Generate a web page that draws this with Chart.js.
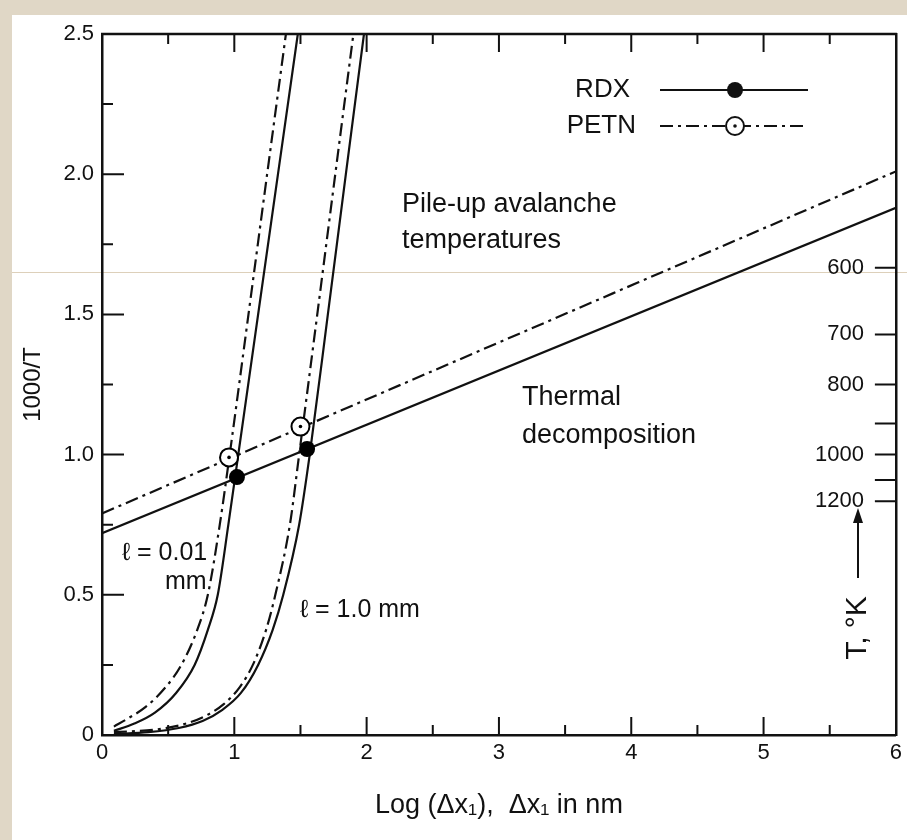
<!DOCTYPE html>
<html>
<head>
<meta charset="utf-8">
<title>Pile-up avalanche temperatures</title>
<script src="https://cdn.jsdelivr.net/npm/chart.js@4.4.1/dist/chart.umd.min.js"></script>
<style>
  html, body { margin: 0; padding: 0; }
  body { width: 907px; height: 840px; background: #e0d7c6; position: relative; overflow: hidden; }
  #sheet { position: absolute; left: 12px; top: 15px; right: 0; bottom: 0; background: #fff; }
  #scanline { position: absolute; left: 12px; right: 0; top: 272px; height: 1px; background: #ddd0ba; }
  #wrap { position: absolute; left: 0; top: 0; width: 907px; height: 840px; }
</style>
</head>
<body>
<div id="sheet"></div>
<div id="scanline"></div>
<div id="wrap"><canvas id="chart" width="907" height="840"></canvas></div>
<script>
// Values: x = Log(dx1), y = 1000/T

// pile-up avalanche curves, l = 0.01 mm
const petnThinX = [0.09, 0.20, 0.33, 0.48, 0.60, 0.72, 0.80, 0.89, 0.965, 1.107, 1.248, 1.39];
const petnThinY = [0.03, 0.06, 0.10, 0.17, 0.25, 0.375, 0.5, 0.75, 1.0, 1.5, 2.0, 2.5];
const rdxThinX = [0.09, 0.24, 0.40, 0.56, 0.70, 0.80, 0.875, 0.955, 1.03, 1.18, 1.33, 1.48];
const rdxThinY = [0.015, 0.04, 0.08, 0.15, 0.25, 0.375, 0.5, 0.75, 1.0, 1.5, 2.0, 2.5];

// pile-up avalanche curves, l = 1.0 mm
const petnThickX = [0.09, 0.42, 0.63, 0.79, 0.92, 1.04, 1.14, 1.24, 1.31, 1.42, 1.49, 1.627, 1.763, 1.90];
const petnThickY = [0.01, 0.02, 0.04, 0.07, 0.11, 0.17, 0.25, 0.375, 0.5, 0.75, 1.0, 1.5, 2.0, 2.5];
const rdxThickX = [0.09, 0.35, 0.58, 0.76, 0.91, 1.05, 1.18, 1.29, 1.37, 1.49, 1.57, 1.707, 1.843, 1.98];
const rdxThickY = [0.003, 0.01, 0.025, 0.05, 0.09, 0.15, 0.25, 0.375, 0.5, 0.75, 1.0, 1.5, 2.0, 2.5];

// thermal decomposition lines
const rdxThermalX = [0, 6];
const rdxThermalY = [0.72, 1.88];
const petnThermalX = [0, 6];
const petnThermalY = [0.79, 2.01];

// crossing points
const rdxCrossX = [1.02, 1.55];
const rdxCrossY = [0.92, 1.02];
const petnCrossX = [0.96, 1.50];
const petnCrossY = [0.99, 1.10];

// ticks
const xTickVals = [0.5, 1, 1.5, 2, 2.5, 3, 3.5, 4, 4.5, 5, 5.5];
const yTickVals = [0.25, 0.5, 0.75, 1, 1.25, 1.5, 1.75, 2, 2.25];
const tempK = [600, 700, 800, 900, 1000, 1100, 1200];
const tempLabels = ['600', '700', '800', '', '1000', '', '1200'];

const INK = '#111';
const DASHDOT = [13, 5, 3, 5];
const FONT = "'Liberation Sans', Arial, Helvetica, sans-serif";

const pts = (xs, ys) => xs.map((x, i) => ({ x, y: ys[i] }));

function curve(label, xs, ys, dashed) {
  return {
    label,
    data: pts(xs, ys),
    order: 3,
    showLine: true,
    borderColor: INK,
    borderWidth: 2.2,
    borderDash: dashed ? DASHDOT : [],
    pointRadius: 0,
    pointHoverRadius: 0,
    cubicInterpolationMode: 'monotone',
    fill: false
  };
}

// inward ticks on all four sides + top frame line
const frameTicks = {
  id: 'frameTicks',
  afterDatasetsDraw(chart) {
    const { ctx, chartArea: a, scales: { x, y, y2 } } = chart;
    ctx.save();
    ctx.strokeStyle = INK;
    ctx.lineWidth = 2.5;
    ctx.beginPath();
    ctx.moveTo(a.left - 1, a.top);
    ctx.lineTo(a.right + 1, a.top);
    ctx.stroke();

    ctx.lineWidth = 2;
    ctx.beginPath();
    xTickVals.forEach(v => {
      const px = x.getPixelForValue(v);
      const len = Number.isInteger(v) ? 18 : 10;
      ctx.moveTo(px, a.bottom); ctx.lineTo(px, a.bottom - len);
      ctx.moveTo(px, a.top); ctx.lineTo(px, a.top + len);
    });
    yTickVals.forEach(v => {
      const py = y.getPixelForValue(v);
      const len = (v * 2) % 1 === 0 ? 22 : 11;
      ctx.moveTo(a.left, py); ctx.lineTo(a.left + len, py);
    });
    tempK.forEach(t => {
      const py = y2.getPixelForValue(1000 / t);
      ctx.moveTo(a.right, py); ctx.lineTo(a.right - 21, py);
    });
    ctx.stroke();
    ctx.restore();
  }
};

// legend key in the upper right
const legendKey = {
  id: 'legendKey',
  afterDraw(chart) {
    const { ctx } = chart;
    ctx.save();
    ctx.fillStyle = INK;
    ctx.strokeStyle = INK;
    ctx.font = '26px ' + FONT;
    ctx.textAlign = 'right';
    ctx.textBaseline = 'middle';
    ctx.fillText('RDX', 630, 90);
    ctx.fillText('PETN', 636, 126);

    ctx.lineWidth = 2.2;
    ctx.beginPath();
    ctx.moveTo(660, 90); ctx.lineTo(808, 90);
    ctx.stroke();
    ctx.beginPath();
    ctx.arc(735, 90, 8, 0, Math.PI * 2);
    ctx.fill();

    ctx.setLineDash(DASHDOT);
    ctx.beginPath();
    ctx.moveTo(660, 126); ctx.lineTo(808, 126);
    ctx.stroke();
    ctx.setLineDash([]);
    ctx.lineWidth = 2;
    ctx.fillStyle = '#fff';
    ctx.beginPath();
    ctx.arc(735, 126, 9, 0, Math.PI * 2);
    ctx.fill();
    ctx.stroke();
    ctx.fillStyle = INK;
    ctx.beginPath();
    ctx.arc(735, 126, 1.8, 0, Math.PI * 2);
    ctx.fill();
    ctx.restore();
  }
};

// free text inside the plot and the T axis caption
const notes = {
  id: 'notes',
  afterDraw(chart) {
    const { ctx } = chart;
    ctx.save();
    ctx.fillStyle = INK;
    ctx.textBaseline = 'middle';
    ctx.textAlign = 'left';
    ctx.font = '27px ' + FONT;
    ctx.fillText('Pile-up avalanche', 402, 205);
    ctx.fillText('temperatures', 402, 241);
    ctx.fillText('Thermal', 522, 398);
    ctx.fillText('decomposition', 522, 436);
    ctx.font = '25px ' + FONT;
    ctx.fillText('ℓ = 0.01', 122, 553);
    ctx.fillText('mm', 165, 582);
    ctx.fillText('ℓ = 1.0 mm', 300, 610);

    // T, °K with arrow, rotated
    ctx.translate(858, 628);
    ctx.rotate(-Math.PI / 2);
    ctx.font = '30px ' + FONT;
    ctx.textAlign = 'center';
    ctx.fillText('T, °K', 0, 0);
    ctx.strokeStyle = INK;
    ctx.lineWidth = 2;
    ctx.beginPath();
    ctx.moveTo(50, 0); ctx.lineTo(110, 0);
    ctx.stroke();
    ctx.beginPath();
    ctx.moveTo(120, 0); ctx.lineTo(105, -5); ctx.lineTo(105, 5);
    ctx.closePath();
    ctx.fill();
    ctx.restore();
  }
};

Chart.defaults.font.family = FONT;
Chart.defaults.color = INK;

new Chart(document.getElementById('chart'), {
  type: 'scatter',
  data: {
    datasets: [
      curve('PETN l = 0.01 mm', petnThinX, petnThinY, true),
      curve('RDX l = 0.01 mm', rdxThinX, rdxThinY, false),
      curve('PETN l = 1.0 mm', petnThickX, petnThickY, true),
      curve('RDX l = 1.0 mm', rdxThickX, rdxThickY, false),
      curve('PETN thermal', petnThermalX, petnThermalY, true),
      curve('RDX thermal', rdxThermalX, rdxThermalY, false),
      {
        label: 'RDX crossing',
        data: pts(rdxCrossX, rdxCrossY),
        order: 2,
        showLine: false,
        pointRadius: 8,
        pointBackgroundColor: '#000',
        pointBorderWidth: 0
      },
      {
        label: 'PETN crossing',
        data: pts(petnCrossX, petnCrossY),
        order: 1,
        showLine: false,
        pointRadius: 9,
        pointBackgroundColor: '#fff',
        pointBorderColor: '#000',
        pointBorderWidth: 2
      },
      {
        label: 'PETN crossing centre',
        data: pts(petnCrossX, petnCrossY),
        order: 0,
        showLine: false,
        pointRadius: 1.8,
        pointBackgroundColor: '#000',
        pointBorderWidth: 0
      }
    ]
  },
  options: {
    responsive: false,
    animation: false,
    devicePixelRatio: 1,
    layout: { padding: { left: 0, top: 34, right: 9, bottom: 0 } },
    plugins: {
      legend: { display: false },
      tooltip: { enabled: false }
    },
    scales: {
      x: {
        type: 'linear',
        min: 0,
        max: 6,
        afterFit: s => { s.height = 105; },
        ticks: { stepSize: 1, padding: 5, maxRotation: 0, font: { size: 22 }, color: INK },
        grid: { display: false, drawTicks: false },
        border: { display: true, color: INK, width: 2.5 },
        title: {
          display: true,
          text: 'Log (Δx₁),  Δx₁ in nm',
          color: INK,
          font: { size: 27 },
          padding: { top: 0, bottom: 18 }
        }
      },
      y: {
        min: 0,
        max: 2.5,
        afterFit: s => { s.width = 102; },
        ticks: {
          stepSize: 0.5,
          padding: 8,
          font: { size: 22 },
          color: INK,
          callback: v => (v === 0 ? '0' : v.toFixed(1))
        },
        grid: { display: false, drawTicks: false },
        border: { display: true, color: INK, width: 2.5 },
        title: {
          display: true,
          text: '1000/T',
          color: INK,
          font: { size: 24 },
          padding: { top: 19, bottom: 0 }
        }
      },
      y2: {
        position: 'right',
        min: 0,
        max: 2.5,
        afterFit: s => { s.width = 0; },
        afterBuildTicks: s => { s.ticks = tempK.map(t => ({ value: 1000 / t })); },
        ticks: {
          mirror: true,
          padding: -32,
          autoSkip: false,
          font: { size: 22 },
          color: INK,
          callback: (v, i) => tempLabels[i]
        },
        grid: { display: false, drawTicks: false },
        border: { display: true, color: INK, width: 2.5 }
      }
    }
  },
  plugins: [frameTicks, legendKey, notes]
});
</script>
</body>
</html>
